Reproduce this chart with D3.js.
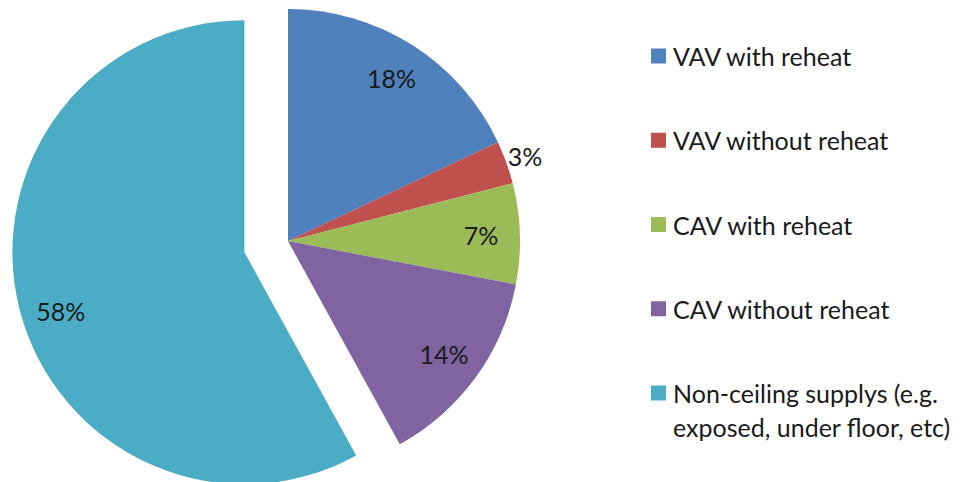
<!DOCTYPE html>
<html><head><meta charset="utf-8">
<script src="https://cdn.jsdelivr.net/npm/d3@7"></script>
<style>body{margin:0;background:#fff}svg{display:block}text{font-family:Lato,"Liberation Sans",sans-serif;fill:#1a1a1a}</style>
</head><body><svg id="c" width="966" height="482"></svg>
<script>
const categories = ["VAV with reheat","VAV without reheat","CAV with reheat","CAV without reheat","Non-ceiling supplys (e.g. exposed, under floor, etc)"];
const legendLines = [["VAV with reheat"],["VAV without reheat"],["CAV with reheat"],["CAV without reheat"],["Non-ceiling supplys (e.g.","exposed, under floor, etc)"]];
const values = [18,3,7,14,58];
const labels = ["18%","3%","7%","14%","58%"];
const colors = ["#4F81BD","#C0504D","#9BBB59","#8064A2","#4BACC6"];
const exploded = [0,0,0,0,1];
const outsideLabel = [0,1,0,0,0];

const svg = d3.select("#c");
const cx = 288, cy = 241, R = 232, explode = 45;
const pie = d3.pie().sort(null).value(d=>d)(values);
const arc = d3.arc().innerRadius(0).outerRadius(R);
const g = svg.append("g").attr("transform",`translate(${cx},${cy})`);
pie.forEach((p,i)=>{
  const mid = (p.startAngle+p.endAngle)/2;
  const off = exploded[i]?explode:0;
  const ox = off*Math.sin(mid), oy = -off*Math.cos(mid);
  const sg = g.append("g").attr("transform",`translate(${ox},${oy})`);
  sg.append("path").attr("d",arc(p)).attr("fill",colors[i]);
  const lr = outsideLabel[i]?252:193;
  const la = exploded[i]? mid-0.06 : mid;
  sg.append("text").attr("x",lr*Math.sin(la)).attr("y",-lr*Math.cos(la))
    .attr("text-anchor","middle").attr("dominant-baseline","central")
    .style("font-size","25px").text(labels[i]);
});

const lg = svg.append("g");
const ly = d3.scalePoint().domain(categories).range([56,393]);
categories.forEach((c,i)=>{
  const y = ly(c);
  lg.append("rect").attr("x",651).attr("y",y-7.5).attr("width",15).attr("height",15).attr("fill",colors[i]);
  legendLines[i].forEach((t,j)=>{
    lg.append("text").attr("x",673).attr("y",y+j*34).attr("dominant-baseline","central")
      .style("font-size","25px").text(t);
  });
});
</script></body></html>
